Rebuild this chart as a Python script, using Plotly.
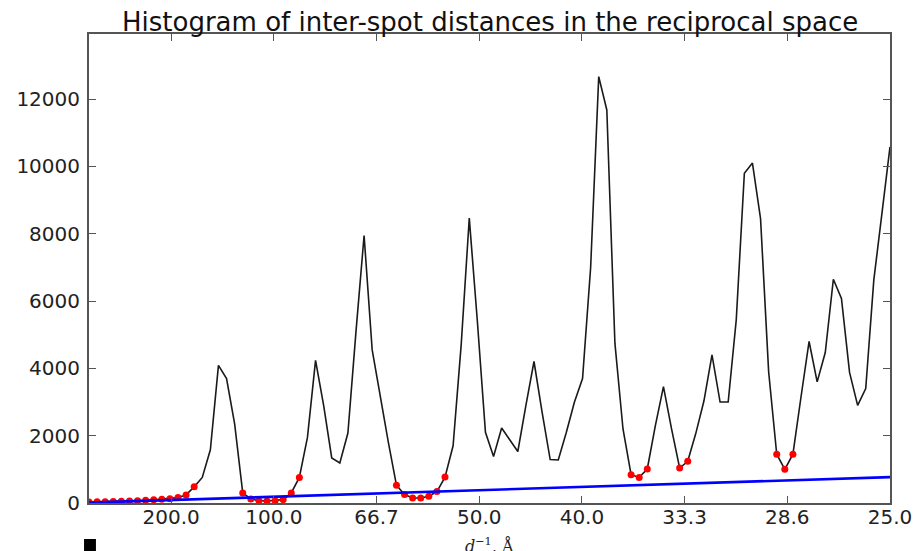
import numpy as np
import plotly.graph_objects as go

# Reciprocal distance bins (1/Å) and the histogram counts in each bin
inv_d = np.linspace(0.001, 0.04, 100)
counts = [
    30, 35, 40, 45, 50, 60, 70, 80, 95, 110,
    130, 160, 240, 480, 760, 1580, 4090, 3700, 2350, 300,
    120, 70, 60, 70, 100, 300, 760, 1950, 4240, 2900,
    1340, 1190, 2080, 5100, 7950, 4550, 3150, 1800, 530, 250,
    150, 150, 200, 340, 770, 1700, 4700, 8465, 5400, 2100,
    1380, 2230, 1880, 1530, 2900, 4205, 2700, 1290, 1280, 2100,
    3000, 3700, 7000, 12670, 11680, 4750, 2200, 840, 760, 1010,
    2300, 3460, 2200, 1040, 1240, 2070, 3030, 4400, 3000, 3000,
    5450, 9800, 10100, 8450, 3900, 1450, 1000, 1450, 3150, 4800,
    3600, 4470, 6650, 6080, 3880, 2900, 3400, 6630, 8600, 10580,
]

# Bins picked as background (valley) points
background_idx = (list(range(0, 14)) + list(range(19, 27)) + list(range(38, 45))
                  + [67, 68, 69, 73, 74, 85, 86, 87])

# Linear background estimate: end points in (1/Å, counts)
baseline_x = [0.001, 0.04]
baseline_y = [10, 770]

# Axis ticks in reciprocal space, labelled with d in Å
xtick_vals = [0.005, 0.01, 0.015, 0.02, 0.025, 0.03, 0.035, 0.04]
xtick_text = ["200.0", "100.0", "66.7", "50.0", "40.0", "33.3", "28.6", "25.0"]
ytick_vals = [0, 2000, 4000, 6000, 8000, 10000, 12000]
ytick_text = ["0", "2000", "4000", "6000", "8000", "10000", "12000"]

W, H = 924, 551
ML, MR, MT, MB = 89, 28, 34, 48
PW, PH = W - ML - MR, H - MT - MB


def px_to_paper(px, py):
    return (px - ML) / PW, (H - MB - py) / PH


fig = go.Figure()
fig.add_trace(go.Scatter(
    x=inv_d, y=counts, mode="lines",
    line=dict(color="#1a1a1a", width=1.6), showlegend=False,
))
fig.add_trace(go.Scatter(
    x=[inv_d[i] for i in background_idx],
    y=[counts[i] for i in background_idx],
    mode="markers",
    marker=dict(color="red", size=7, line=dict(width=0)),
    showlegend=False,
))
fig.add_trace(go.Scatter(
    x=baseline_x, y=baseline_y, mode="lines",
    line=dict(color="blue", width=2.6), showlegend=False,
))

axis_common = dict(
    showgrid=False, zeroline=False, showline=True, linecolor="#555555",
    linewidth=2, mirror="allticks", ticks="inside", ticklen=7,
    tickcolor="#555555", tickwidth=1,
    tickfont=dict(family="DejaVu Sans", size=20, color="#222222"),
)

fig.update_xaxes(
    range=[0.001, 0.04], tickmode="array", tickvals=xtick_vals,
    ticktext=xtick_text, ticklabelstandoff=-5, **axis_common,
)
fig.update_yaxes(
    range=[0, 1.1 * max(counts)], tickmode="array", tickvals=ytick_vals,
    ticktext=ytick_text, ticklabelstandoff=3, **axis_common,
)

tx, ty = px_to_paper(493, 22)
lx, ly = px_to_paper(492, 545)
fig.add_annotation(
    text="Histogram of inter-spot distances in the reciprocal space",
    xref="paper", yref="paper", x=tx, y=ty, xanchor="center", yanchor="middle",
    showarrow=False, font=dict(family="DejaVu Sans", size=26, color="#111111"),
)
fig.add_annotation(
    text="<i>d</i><sup>−1</sup>, Å",
    xref="paper", yref="paper", x=lx, y=ly, xanchor="center", yanchor="middle",
    showarrow=False, font=dict(family="DejaVu Serif", size=16, color="#222222"),
)

# Small filled marker at the lower-left corner of the figure
sx0, sy0 = px_to_paper(84, 539)
sx1, sy1 = px_to_paper(96, 556)
fig.add_shape(type="rect", xref="paper", yref="paper",
              x0=sx0, y0=sy0, x1=sx1, y1=sy1,
              fillcolor="black", line=dict(width=0))

fig.update_layout(
    width=W, height=H,
    margin=dict(l=ML, r=MR, t=MT, b=MB),
    paper_bgcolor="white", plot_bgcolor="white",
)

fig.write_html("out.html")
